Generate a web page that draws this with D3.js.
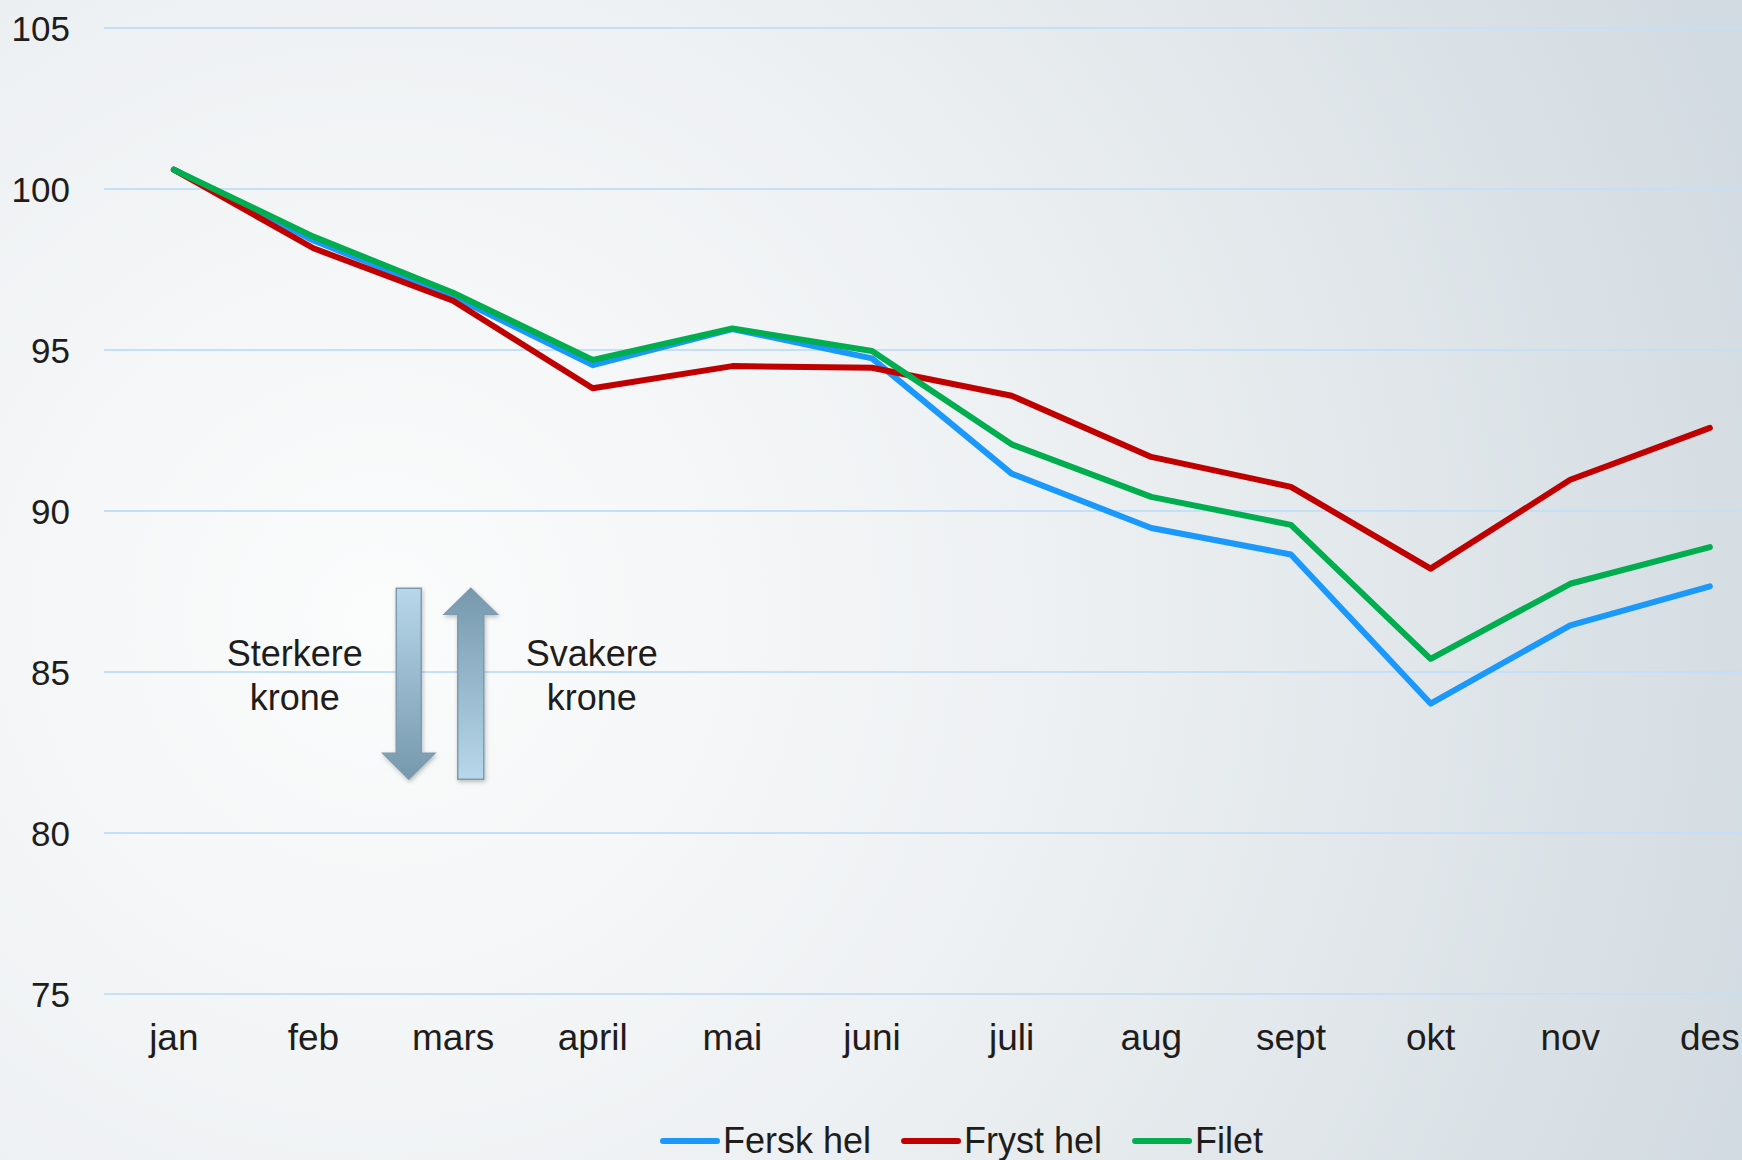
<!DOCTYPE html>
<html lang="no">
<head>
<meta charset="UTF-8">
<title>Kroneeffekt</title>
<script src="https://d3js.org/d3.v7.min.js"></script>
<style>
  html, body { margin: 0; padding: 0; overflow: hidden; }
  svg { display: block; font-family: "Liberation Sans", Arial, sans-serif; }
</style>
</head>
<body>
<script>
// data
const months = ["jan", "feb", "mars", "april", "mai", "juni", "juli", "aug", "sept", "okt", "nov", "des"];
const ferskHel = [100.6, 98.4, 96.66, 94.53, 95.65, 94.74, 91.16, 89.47, 88.65, 84.02, 86.45, 87.66];
const frystHel = [100.6, 98.16, 96.53, 93.81, 94.50, 94.45, 93.58, 91.68, 90.75, 88.21, 90.97, 92.58];
const filet    = [100.6, 98.52, 96.78, 94.69, 95.67, 94.97, 92.07, 90.44, 89.57, 85.41, 87.74, 88.88];
const yTicks = [75, 80, 85, 90, 95, 100, 105];

const series = [
  { name: "Fersk hel", values: ferskHel, color: "#1b98fb" },
  { name: "Fryst hel", values: frystHel, color: "#c00000" },
  { name: "Filet",     values: filet,    color: "#00ad4f" }
];

const width = 1742, height = 1160;
const textColor = "#1f1c1c";

const svg = d3.select("body").append("svg")
  .attr("width", width)
  .attr("height", height);

const defs = svg.append("defs");

// background
const bg = defs.append("radialGradient")
  .attr("id", "bg")
  .attr("gradientUnits", "userSpaceOnUse")
  .attr("cx", 380).attr("cy", 620).attr("r", 1450);
bg.append("stop").attr("offset", 0).attr("stop-color", "#fbfcfc");
bg.append("stop").attr("offset", 0.45).attr("stop-color", "#eef1f3");
bg.append("stop").attr("offset", 1).attr("stop-color", "#d2dbe1");

svg.append("rect")
  .attr("width", width).attr("height", height)
  .attr("fill", "url(#bg)");

// scales
const x = d3.scaleBand()
  .domain(months)
  .range([104, 104 + 12 * 139.64]);

const y = d3.scaleLinear()
  .domain([75, 105])
  .range([994, 28]);

const cx = m => x(m) + x.bandwidth() / 2;

// gridlines
svg.append("g")
  .selectAll("line")
  .data(yTicks)
  .join("line")
  .attr("x1", x.range()[0])
  .attr("x2", x.range()[1])
  .attr("y1", d => y(d))
  .attr("y2", d => y(d))
  .attr("stroke", "#c3e0f8")
  .attr("stroke-width", 2);

// y axis labels
const yAxis = svg.append("g")
  .attr("transform", "translate(70,0)")
  .call(d3.axisLeft(y).tickValues(yTicks).tickSize(0).tickPadding(0));
yAxis.select(".domain").remove();
yAxis.selectAll("text")
  .attr("font-size", 35)
  .attr("font-family", "Liberation Sans, Arial, sans-serif")
  .attr("fill", textColor)
  .attr("dy", "0.35em");

// x axis labels
const xAxis = svg.append("g")
  .attr("transform", "translate(0,1050)")
  .call(d3.axisBottom(x).tickSize(0).tickPadding(0));
xAxis.select(".domain").remove();
xAxis.selectAll("text")
  .attr("font-size", 37)
  .attr("font-family", "Liberation Sans, Arial, sans-serif")
  .attr("fill", textColor)
  .attr("dy", 0)
  .attr("y", 0);

// arrows (annotation)
function addGrad(id, top, bottom) {
  const g = defs.append("linearGradient")
    .attr("id", id).attr("x1", 0).attr("y1", 0).attr("x2", 0).attr("y2", 1);
  g.append("stop").attr("offset", 0).attr("stop-color", top);
  g.append("stop").attr("offset", 1).attr("stop-color", bottom);
}
addGrad("downGrad", "#b8d7eb", "#7698ad");
addGrad("upGrad", "#7698ad", "#b8d7eb");

const shadow = defs.append("filter").attr("id", "shadow")
  .attr("x", "-30%").attr("y", "-10%").attr("width", "160%").attr("height", "120%");
shadow.append("feDropShadow")
  .attr("dx", 1).attr("dy", 2).attr("stdDeviation", 2)
  .attr("flood-color", "#000").attr("flood-opacity", 0.25);

const aTop = y(87.6), aBot = y(81.67);
const headH = 26;

const downX = (cx("feb") + cx("mars")) / 2 + 25.5;
const upX = downX + 62;

const downPath = d3.path();
downPath.moveTo(downX - 12.5, aTop);
downPath.lineTo(downX + 12.5, aTop);
downPath.lineTo(downX + 12.5, aBot - headH);
downPath.lineTo(downX + 26, aBot - headH);
downPath.lineTo(downX, aBot);
downPath.lineTo(downX - 26, aBot - headH);
downPath.lineTo(downX - 12.5, aBot - headH);
downPath.closePath();

const upPath = d3.path();
upPath.moveTo(upX, aTop);
upPath.lineTo(upX + 26.5, aTop + headH);
upPath.lineTo(upX + 13, aTop + headH);
upPath.lineTo(upX + 13, aBot);
upPath.lineTo(upX - 13, aBot);
upPath.lineTo(upX - 13, aTop + headH);
upPath.lineTo(upX - 26.5, aTop + headH);
upPath.closePath();

const arrows = svg.append("g").attr("filter", "url(#shadow)");
arrows.append("path").attr("d", downPath.toString())
  .attr("fill", "url(#downGrad)").attr("stroke", "#7f9bb0").attr("stroke-width", 1.5);
arrows.append("path").attr("d", upPath.toString())
  .attr("fill", "url(#upGrad)").attr("stroke", "#7f9bb0").attr("stroke-width", 1.5);

const notes = [
  { lines: ["Sterkere", "krone"], x: downX - 114 },
  { lines: ["Svakere", "krone"], x: upX + 121 }
];
svg.append("g").selectAll("text")
  .data(notes)
  .join("text")
  .attr("x", d => d.x)
  .attr("y", 666)
  .attr("text-anchor", "middle")
  .attr("font-size", 36)
  .attr("fill", textColor)
  .selectAll("tspan")
  .data(d => d.lines.map(l => ({ l, x: d.x })))
  .join("tspan")
  .attr("x", d => d.x)
  .attr("dy", (d, i) => i === 0 ? 0 : 44)
  .text(d => d.l);

// lines
const line = d3.line()
  .x((d, i) => cx(months[i]))
  .y(d => y(d));

svg.append("g").selectAll("path")
  .data(series)
  .join("path")
  .attr("d", d => line(d.values))
  .attr("fill", "none")
  .attr("stroke", d => d.color)
  .attr("stroke-width", 6)
  .attr("stroke-linejoin", "round")
  .attr("stroke-linecap", "round");

// legend
const legend = svg.append("g").attr("transform", "translate(663,1141)");
let lx = 0;
series.forEach(s => {
  legend.append("line")
    .attr("x1", lx).attr("x2", lx + 54)
    .attr("y1", 0).attr("y2", 0)
    .attr("stroke", s.color)
    .attr("stroke-width", 6)
    .attr("stroke-linecap", "round");
  const t = legend.append("text")
    .attr("x", lx + 60)
    .attr("y", 12)
    .attr("font-size", 36)
    .attr("fill", textColor)
    .text(s.name);
  lx += 60 + t.node().getComputedTextLength() + 33;
});
</script>
</body>
</html>
